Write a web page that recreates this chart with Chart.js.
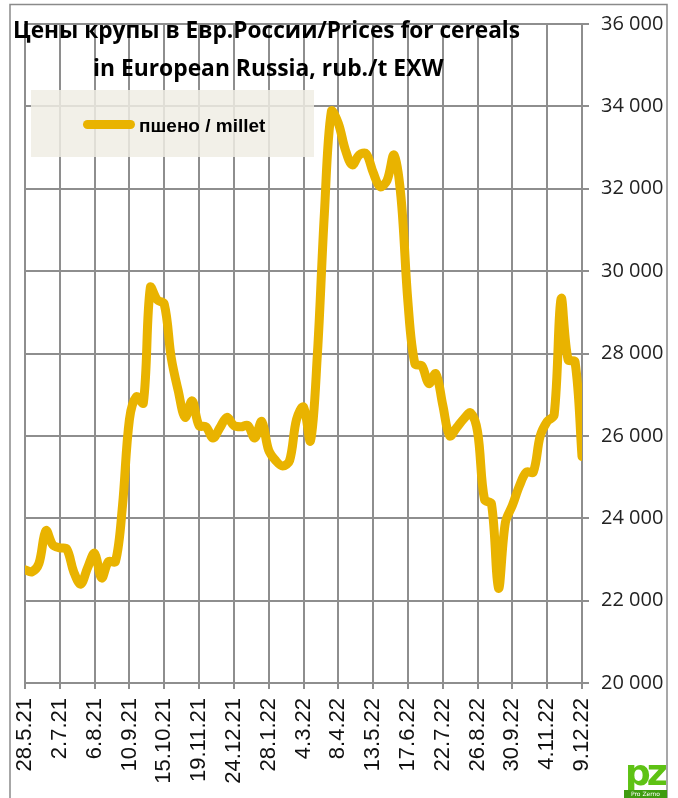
<!DOCTYPE html>
<html>
<head>
<meta charset="utf-8">
<script src="https://cdn.jsdelivr.net/npm/chart.js@4.4.0/dist/chart.umd.min.js"></script>
<style>
  body { margin: 0; background: #fff; }
  #wrap { position: relative; width: 678px; height: 798px; overflow: hidden; }
  .ttl { position: absolute; white-space: nowrap; font-family: "Open Sans", sans-serif; font-weight: bold;
         font-size: 24px; line-height: 24px; color: #000; transform-origin: 0 0; }
  #legend { position: absolute; left: 31px; top: 90px; width: 283px; height: 67px; background: rgba(240,237,228,0.84); }
  #swatch { position: absolute; left: 83px; top: 120px; width: 52px; height: 9px; border-radius: 5px; background: #E9B300; }
  #legtext { position: absolute; left: 139px; top: 116px; font: bold 19px "Liberation Sans", Arial, sans-serif; line-height: 19px; color: #000; white-space: nowrap; }
  #logo { position: absolute; left: 624px; top: 758px; width: 43px; height: 40px; }
  #logo .pz { position: absolute; left: 1px; top: -6px; font: bold 36px "DejaVu Sans", sans-serif; color: #5ec214; letter-spacing: -4px; }
  #logo .bar { position: absolute; left: 0; bottom: 0; width: 43px; height: 8px; background: #3f9c10; color: #fff;
               font: 6px "DejaVu Sans", sans-serif; line-height: 8px; text-align: center; }
</style>
</head>
<body>
<div id="wrap">
  <canvas id="chart" width="678" height="798"></canvas>
  <div id="legend"></div>
  <div id="swatch"></div>
  <div id="legtext">пшено / millet</div>
  <div class="ttl" id="t1">Цены крупы в Евр.России/Prices for cereals</div>
  <div class="ttl" id="t2">in European Russia, rub./t EXW</div>
  <div id="logo"><span class="pz">pz</span><div class="bar">Pro Zerno</div></div>
</div>
<script>
// weekly prices, 28.5.21 .. 9.12.22 (81 weeks)
var prices = [
  22750, 22700, 22900, 23700, 23350, 23280, 23250, 22700, 22400, 22800,
  23150, 22550, 22950, 22950, 24300, 26400, 26950, 26800, 29600, 29300,
  29200, 27900, 27100, 26450, 26850, 26250, 26220, 25950, 26200, 26450,
  26250, 26220, 26250, 25950, 26350, 25650, 25400, 25270, 25400, 26400,
  26700, 25880, 28000, 31400, 33880, 33590, 32950, 32580, 32820, 32850,
  32400, 32050, 32200, 32820, 31800, 29250, 27750, 27700, 27270, 27510,
  26750, 26000, 26200, 26410, 26560, 26100, 24450, 24350, 22300, 23900,
  24310, 24780, 25120, 25120, 26000, 26350, 26510, 29330, 27850, 27800,
  25500
];
// one label every 5 weeks
var tickLabels = ['28.5.21','2.7.21','6.8.21','10.9.21','15.10.21','19.11.21','24.12.21','28.1.22',
  '4.3.22','8.4.22','13.5.22','17.6.22','22.7.22','26.8.22','30.9.22','4.11.22','9.12.22'];
var yMin = 20000, yMax = 36000, yStep = 2000;

var gridColor = '#8e8e8e';

var frame = {
  id: 'frame',
  afterDraw: function(chart) {
    var ctx = chart.ctx;
    ctx.save();
    ctx.strokeStyle = '#8a8a8a';
    ctx.lineWidth = 1.5;
    ctx.strokeRect(10, 4.5, 657, 810);
    ctx.restore();
  }
};

var pts = prices.map(function(v, i) { return {x: i, y: v}; });

new Chart(document.getElementById('chart'), {
  type: 'line',
  data: {
    datasets: [{
      label: 'пшено / millet',
      data: pts,
      borderColor: '#E9B300',
      borderWidth: 9,
      borderCapStyle: 'round',
      borderJoinStyle: 'round',
      pointRadius: 0,
      tension: 0.35,
      clip: {left: 0, right: 0, top: false, bottom: false}
    }]
  },
  options: {
    responsive: false,
    animation: false,
    layout: { padding: { left: 25, top: 15, right: 0, bottom: 0 } },
    plugins: { legend: { display: false }, tooltip: { enabled: false } },
    scales: {
      x: {
        type: 'linear',
        min: 0, max: 80,
        afterFit: function(s) { s.height = 115; },
        grid: { color: gridColor, lineWidth: 2, tickLength: 6 },
        border: { color: gridColor, width: 2 },
        ticks: {
          stepSize: 5, autoSkip: false, maxRotation: 90, minRotation: 90, padding: 9,
          color: '#111',
          font: { family: '"Liberation Sans", Arial, sans-serif', size: 22 },
          callback: function(v) { return tickLabels[v / 5]; }
        }
      },
      y: {
        position: 'right',
        min: yMin, max: yMax,
        afterFit: function(s) { s.width = 96; },
        grid: { color: gridColor, lineWidth: 2, tickLength: 7 },
        border: { color: gridColor, width: 2 },
        ticks: {
          stepSize: yStep, padding: 12, color: '#222',
          font: { family: '"Open Sans", sans-serif', size: 20 },
          callback: function(v) { return String(v).replace(/(\d+)(\d{3})$/, '$1 $2'); }
        }
      }
    }
  },
  plugins: [frame]
});

// squeeze the title lines into the width they take in the picture
function fit(id, left, right, top) {
  var el = document.getElementById(id);
  var w = el.offsetWidth;
  el.style.left = left + 'px';
  el.style.top = top + 'px';
  el.style.transform = 'scaleX(' + ((right - left) / w) + ')';
}
fit('t1', 13, 520, 17);
fit('t2', 93, 443, 55);
</script>
</body>
</html>
